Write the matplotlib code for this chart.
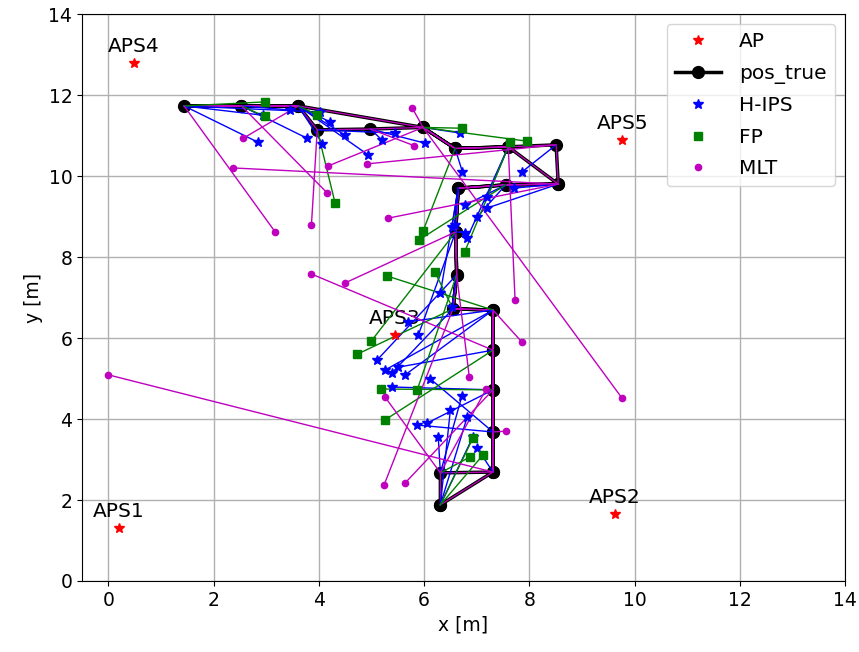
import matplotlib
matplotlib.use("Agg")
import matplotlib.pyplot as plt
import numpy as np

# Access points
ap_names = ["APS1", "APS2", "APS3", "APS4", "APS5"]
ap_x = [0.20, 9.62, 5.45, 0.48, 9.77]
ap_y = [1.32, 1.65, 6.07, 12.78, 10.90]

# True positions (unique reference points)
true_x = [6.31, 6.31, 7.31, 7.31, 7.31, 7.31, 7.31, 6.55, 6.62, 6.60, 6.65,
          7.55, 8.55, 8.51, 7.60, 6.59, 5.98, 4.98, 3.97, 3.61, 2.53, 1.44]
true_y = [1.88, 2.67, 2.69, 3.68, 4.72, 5.70, 6.69, 6.72, 7.56, 8.62, 9.70,
          9.78, 9.80, 10.77, 10.72, 10.68, 11.20, 11.16, 11.14, 11.73, 11.73, 11.73]
# walking order (forward and return)
path_order = list(range(22)) + [20, 19, 16, 15, 14, 12, 11, 10, 9, 8, 7, 6,
                                5, 4, 3, 2, 0]

# H-IPS estimates and the true point they belong to
hips_x = [2.85, 3.78, 4.07, 4.03, 3.46, 2.94, 4.22, 4.50, 4.94, 5.20, 5.45,
          6.02, 6.69, 6.73, 7.86, 7.70, 7.20, 7.01, 7.20, 6.53, 6.78, 6.82,
          6.78, 6.31, 6.53, 5.70, 5.89, 5.11, 5.26, 5.39, 5.51, 5.64, 5.39,
          6.12, 6.72, 6.50, 6.82, 5.87, 6.06, 6.27, 7.01, 6.93, 6.59]
hips_y = [10.83, 10.93, 10.80, 11.58, 11.63, 11.50, 11.33, 11.01, 10.52, 10.89,
          11.06, 10.81, 11.06, 10.10, 10.10, 9.70, 9.48, 8.99, 9.21, 8.74, 8.60,
          8.47, 9.28, 7.11, 6.77, 6.40, 6.07, 5.46, 5.21, 5.14, 5.28, 5.09, 4.79,
          4.99, 4.57, 4.22, 4.05, 3.85, 3.90, 3.56, 3.28, 3.56, 8.79]
hips_ref = [21, 20, 19, 21, 20, 21, 19, 19, 19, 17, 18,
            17, 16, 15, 13, 12, 14, 11, 12, 10, 9, 14,
            11, 10, 8, 6, 9, 8, 6, 7, 5, 6, 4,
            3, 1, 0, 0, 3, 4, 1, 2, 0, 10]

# FP estimates
fp_x = [2.98, 2.98, 3.97, 4.31, 6.72, 7.63, 7.96, 5.90, 5.98, 6.77, 6.21,
        5.30, 5.00, 4.73, 5.19, 5.87, 5.25, 6.93, 6.87, 7.12]
fp_y = [11.83, 11.47, 11.51, 9.33, 11.18, 10.84, 10.86, 8.42, 8.64, 8.12, 7.62,
        7.53, 5.93, 5.60, 4.74, 4.72, 3.97, 3.53, 3.06, 3.11]
fp_ref = [21, 20, 19, 18, 16, 14, 16, 11, 15, 14, 7,
          6, 9, 7, 4, 8, 5, 0, 1, 0]

# MLT estimates
mlt_x = [0.00, 2.36, 3.17, 2.56, 4.16, 3.86, 4.18, 4.92, 5.78, 5.81, 5.32,
         3.86, 4.50, 7.73, 7.86, 9.76, 6.86, 7.18, 5.24, 5.64, 7.56, 5.26]
mlt_y = [5.09, 10.20, 8.62, 10.93, 9.58, 8.80, 10.25, 10.30, 11.67, 10.75, 8.96,
         7.58, 7.36, 6.93, 5.90, 4.52, 5.04, 4.74, 2.37, 2.42, 3.70, 4.54]
mlt_ref = [2, 12, 21, 19, 20, 18, 16, 13, 16, 17, 12,
           5, 9, 14, 6, 16, 8, 1, 7, 4, 3, 1]

fig = plt.figure(figsize=(8.59, 6.52), dpi=100)
ax = fig.add_axes([0.0955, 0.1089, 0.8882, 0.8696])
ax.grid(True, color="#b0b0b0", linewidth=1.0)
ax.set_axisbelow(True)

# APs
ax.plot(ap_x, ap_y, "r*", ms=7, linestyle="none", label="AP", zorder=5)
for n, x, y in zip(ap_names, ap_x, ap_y):
    ax.annotate(n, (x, y), xytext=(0, 5), textcoords="offset points",
                ha="center", va="bottom", fontsize=14.5)

# true path
px = [true_x[i] for i in path_order]
py = [true_y[i] for i in path_order]
ax.plot(px, py, "k-o", lw=2.5, ms=8.5, label="pos_true", zorder=2)
ax.plot(px, py, "-", color="m", lw=0.9, zorder=2.1)

def draw(est_x, est_y, ref, color, marker, ms, label):
    for x, y, r in zip(est_x, est_y, ref):
        ax.plot([true_x[r], x], [true_y[r], y], "-", color=color, lw=1.0, zorder=3)
    ax.plot(est_x, est_y, linestyle="none", marker=marker, color=color, ms=ms,
            label=label, zorder=4)

draw(hips_x, hips_y, hips_ref, "b", "*", 7, "H-IPS")
draw(fp_x, fp_y, fp_ref, "g", "s", 5.5, "FP")
draw(mlt_x, mlt_y, mlt_ref, "m", ".", 9, "MLT")

ax.set_xlim(-0.5, 14)
ax.set_ylim(0, 14)
ax.set_xticks(np.arange(0, 15, 2))
ax.set_yticks(np.arange(0, 15, 2))
ax.tick_params(labelsize=13.5)
ax.set_xlabel("x [m]", fontsize=13.5)
ax.set_ylabel("y [m]", fontsize=13.5)
ax.legend(loc="upper right", fontsize=14.5, borderaxespad=0.5, handlelength=2.3,
          handletextpad=0.9, labelspacing=0.62)

fig.savefig("out.png", dpi=100)
